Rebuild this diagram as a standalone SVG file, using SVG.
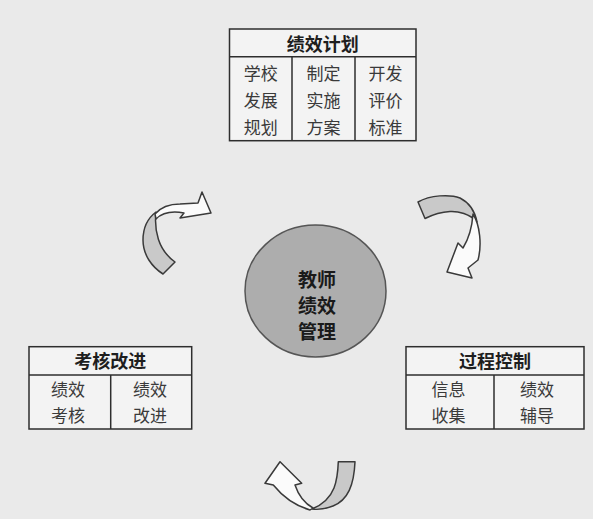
<svg xmlns="http://www.w3.org/2000/svg" width="593" height="519" viewBox="0 0 593 519">
<style>
.box{fill:#f3f3f3;stroke:#2e2e2e;stroke-width:1.5}
.ln{stroke:#2e2e2e;stroke-width:1.5;fill:none}
.hd{font-family:"Noto Sans CJK SC","Noto Sans",sans-serif;font-weight:bold;font-size:18px;fill:#1e1e1e;text-anchor:middle;dominant-baseline:central}
.tx{font-family:"Noto Sans CJK SC","Noto Sans",sans-serif;font-size:17px;fill:#3a3a3a;text-anchor:middle;dominant-baseline:central}
.ct{font-family:"Noto Sans CJK SC","Noto Sans",sans-serif;font-weight:bold;font-size:19px;fill:#1a1a1a;text-anchor:middle;dominant-baseline:central}
.gr{fill:#c9c9c9;stroke:#3a3a3a;stroke-width:1.5;stroke-linejoin:round}
.wh{fill:#fbfbfb;stroke:#3a3a3a;stroke-width:1.5;stroke-linejoin:round}
</style>
<rect x="0" y="0" width="593" height="519" fill="#eaeaea"/>
<g id="plan">
<rect class="box" x="229.5" y="29" width="186.5" height="111.7"/>
<line class="ln" x1="229.5" y1="56.7" x2="416" y2="56.7"/>
<line class="ln" x1="292" y1="56.7" x2="292" y2="140.7"/>
<line class="ln" x1="355" y1="56.7" x2="355" y2="140.7"/>
<text class="hd" x="322.7" y="43">绩效计划</text>
<text class="tx" x="260.7" y="72">学校</text>
<text class="tx" x="260.7" y="99">发展</text>
<text class="tx" x="260.7" y="126">规划</text>
<text class="tx" x="323.5" y="72">制定</text>
<text class="tx" x="323.5" y="99">实施</text>
<text class="tx" x="323.5" y="126">方案</text>
<text class="tx" x="385.5" y="72">开发</text>
<text class="tx" x="385.5" y="99">评价</text>
<text class="tx" x="385.5" y="126">标准</text>
</g>
<g id="center">
<ellipse cx="315.5" cy="291" rx="70.5" ry="66" fill="#adadad" stroke="#555" stroke-width="1.5"/>
<text class="ct" x="317" y="278">教师</text>
<text class="ct" x="317" y="304">绩效</text>
<text class="ct" x="317" y="330">管理</text>
</g>
<g id="review">
<rect class="box" x="29" y="346.7" width="162.7" height="82.3"/>
<line class="ln" x1="29" y1="375" x2="191.7" y2="375"/>
<line class="ln" x1="110.7" y1="375" x2="110.7" y2="429"/>
<text class="hd" x="110.3" y="360">考核改进</text>
<text class="tx" x="68" y="388">绩效</text>
<text class="tx" x="68" y="414">考核</text>
<text class="tx" x="150" y="388">绩效</text>
<text class="tx" x="150" y="414">改进</text>
</g>
<g id="control">
<rect class="box" x="406" y="346.7" width="178" height="82.3"/>
<line class="ln" x1="406" y1="375" x2="584" y2="375"/>
<line class="ln" x1="494" y1="375" x2="494" y2="429"/>
<text class="hd" x="495" y="360">过程控制</text>
<text class="tx" x="448.5" y="388">信息</text>
<text class="tx" x="448.5" y="414">收集</text>
<text class="tx" x="537" y="388">绩效</text>
<text class="tx" x="537" y="414">辅导</text>
</g>
<g id="connectors">
<path class="gr" d="M163,274 C152,267 143,255 143,240 C143,228 148,218 156,212 C154,230 158,250 175,262 Z"/>
<path class="wh" d="M155,214 C161,207 169,204 180,204 L198,203 L202,192 L211,213 L180,218 L184,213 C173,211 163,212 156,219 Z"/>
<path class="gr" d="M418,202 C430,195 450,194 460,198 C470,203 475,212 477,222 C470,214 458,211 450,211.5 C440,212 432,215 425,218.5 Z"/>
<path class="wh" d="M473,214 C480,225 482,245 478,260 L468,268 L472,278 L447,272 L458,243 L463,248 C468,240 472,228 473,214 Z"/>
<path class="gr" d="M338.3,461.7 L355,461.7 C354,485 348,500 333,506 C325,509 318,510 312,509 C322,505 330,498 334,488 C337,480 338,470 338.3,461.7 Z"/>
<path class="wh" d="M273.3,485 L265,483.3 L280,461.7 L301.7,483.3 L295,485 C298,494 304,503 313,508 L310,510 C296,506 283,497 273.3,485 Z"/>
</g>
</svg>
